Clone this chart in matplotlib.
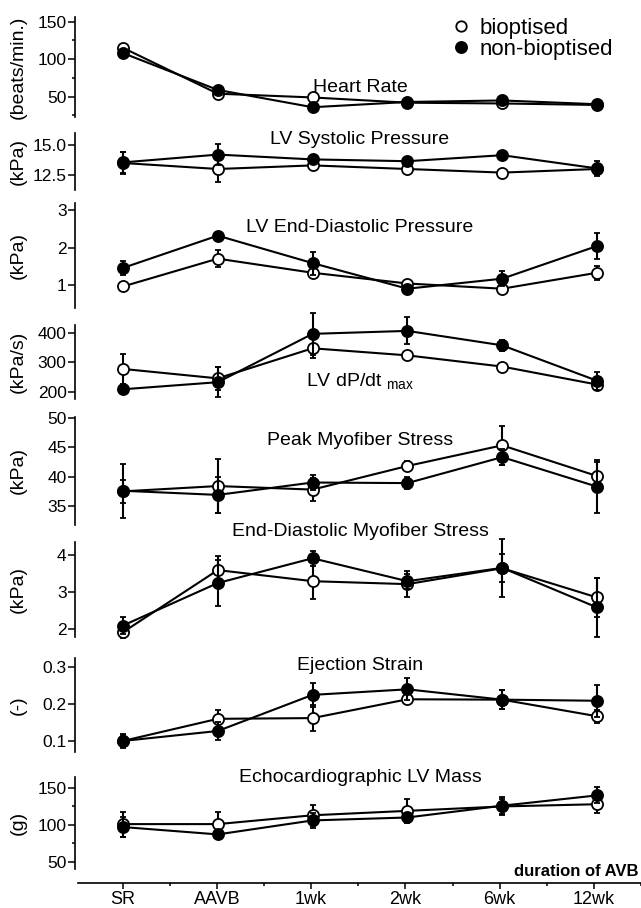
import matplotlib
matplotlib.use("Agg")
import matplotlib.pyplot as plt
import matplotlib.transforms as mtransforms
from matplotlib.lines import Line2D
from matplotlib.ticker import FixedLocator, FormatStrFormatter

plt.rcParams['font.family'] = ['Liberation Sans', 'DejaVu Sans']
plt.rcParams['mathtext.fontset'] = 'custom'
plt.rcParams['mathtext.rm'] = 'Liberation Sans'

stages = ['SR', 'AAVB', '1wk', '2wk', '6wk', '12wk']

# Heart rate (beats/min.)
hr_biop = [115, 54, 49, 42, 41, 39]
hr_biop_err = [2, 2, 2, 2, 2, 2]
hr_non = [108, 59, 36, 43, 45, 40]
hr_non_err = [2, 2, 2, 2, 2, 2]

# LV systolic pressure (kPa)
lvsp_biop = [13.5, 13.0, 13.3, 13.0, 12.7, 13.0]
lvsp_biop_err = [0.9, 1.1, 0.25, 0.2, 0.2, 0.3]
lvsp_non = [13.55, 14.2, 13.8, 13.65, 14.15, 13.05]
lvsp_non_err = [0.9, 0.9, 0.3, 0.3, 0.35, 0.6]

# LV end-diastolic pressure (kPa)
edp_biop = [0.95, 1.70, 1.32, 1.03, 0.89, 1.32]
edp_biop_err = [0.08, 0.23, 0.10, 0.06, 0.06, 0.19]
edp_non = [1.45, 2.32, 1.58, 0.89, 1.16, 2.04]
edp_non_err = [0.18, 0.06, 0.31, 0.06, 0.2, 0.36]

# LV dP/dt max (kPa/s)
dpdt_biop = [277, 245, 347, 323, 285, 224]
dpdt_biop_err = [51, 40, 34, 12, 8, 10]
dpdt_non = [208, 232, 396, 406, 357, 237]
dpdt_non_err = [10, 50, 72, 46, 18, 31]

# Peak myofiber stress (kPa)
pms_biop = [37.5, 38.4, 37.8, 41.8, 45.3, 40.1]
pms_biop_err = [2.0, 4.6, 2.0, 0.8, 3.3, 2.3]
pms_non = [37.6, 36.9, 39.0, 38.9, 43.3, 38.3]
pms_non_err = [4.6, 3.0, 1.2, 1.0, 1.3, 4.5]

# End-diastolic myofiber stress (kPa)
edms_biop = [1.92, 3.60, 3.30, 3.22, 3.65, 2.86]
edms_biop_err = [0.17, 0.37, 0.48, 0.35, 0.38, 0.53]
edms_non = [2.10, 3.25, 3.92, 3.30, 3.66, 2.59]
edms_non_err = [0.23, 0.62, 0.2, 0.2, 0.79, 0.8]

# Ejection strain (-)
es_biop = [0.100, 0.160, 0.162, 0.213, 0.212, 0.167]
es_biop_err = [0.015, 0.025, 0.036, 0.01, 0.026, 0.018]
es_non = [0.100, 0.127, 0.225, 0.240, 0.212, 0.209]
es_non_err = [0.02, 0.025, 0.033, 0.03, 0.026, 0.043]

# Echocardiographic LV mass (g)
mass_biop = [101, 101, 113, 119, 125, 128]
mass_biop_err = [17, 16, 14, 16, 10, 12]
mass_non = [97, 87, 106, 110, 126, 140]
mass_non_err = [14, 4, 10, 4, 12, 11]

panels = [
    ("Heart Rate", "(beats/min.)", hr_biop, hr_biop_err, hr_non, hr_non_err,
     (23, 156), [50, 100, 150], [25, 75, 125], "%d", 87, (17, 117)),
    ("LV Systolic Pressure", "(kPa)", lvsp_biop, lvsp_biop_err, lvsp_non, lvsp_non_err,
     (11.25, 16.0), [12.5, 15.0], [], "%.1f", 140, (133, 190)),
    ("LV End-Diastolic Pressure", "(kPa)", edp_biop, edp_biop_err, edp_non, edp_non_err,
     (0.37, 3.2), [1, 2, 3], [], "%d", 227, (203, 308)),
    (r"LV dP/dt $_{\mathrm{max}}$", "(kPa/s)", dpdt_biop, dpdt_biop_err, dpdt_non, dpdt_non_err,
     (175, 426), [200, 300, 400], [], "%d", 382, (325, 399)),
    ("Peak Myofiber Stress", "(kPa)", pms_biop, pms_biop_err, pms_non, pms_non_err,
     (31.8, 50.1), [35, 40, 45, 50], [], "%d", 441, (417, 525)),
    ("End-Diastolic Myofiber Stress", "(kPa)", edms_biop, edms_biop_err, edms_non, edms_non_err,
     (1.79, 4.36), [2, 3, 4], [], "%d", 532, (542, 637)),
    ("Ejection Strain", "(-)", es_biop, es_biop_err, es_non, es_non_err,
     (0.070, 0.325), [0.1, 0.2, 0.3], [], "%.1f", 665, (658, 752)),
    ("Echocardiographic LV Mass", "(g)", mass_biop, mass_biop_err, mass_non, mass_non_err,
     (40, 165), [50, 100, 150], [75, 125], "%d", 778, (777, 869)),
]

W, H = 641, 908
fig = plt.figure(figsize=(W / 100, H / 100), dpi=100)
x = list(range(len(stages)))

left_px = 75
for title, ylab, yb, eb, yn, en, ylim, major, minor, fmt, ty, (top, bot) in panels:
    ax = fig.add_axes([left_px / W, 1 - bot / H, (W - left_px) / W, (bot - top) / H])
    for yv, ev, face, z in [(yb, eb, 'white', 3), (yn, en, 'k', 4)]:
        cont = ax.errorbar(x, yv, yerr=ev, fmt='o-', color='k', mfc=face, mec='k', ms=8,
                           mew=1.3, lw=1.5, elinewidth=1.5, capsize=2.5, capthick=1.5,
                           zorder=z)
        for art in cont.get_children():
            art.set_clip_on(False)
    ax.set_xlim(-0.506, 5.464)
    ax.set_ylim(*ylim)
    ax.yaxis.set_major_locator(FixedLocator(major))
    ax.yaxis.set_minor_locator(FixedLocator(minor))
    ax.yaxis.set_major_formatter(FormatStrFormatter(fmt))
    for s in ['top', 'right', 'bottom']:
        ax.spines[s].set_visible(False)
    ax.spines['left'].set_linewidth(1.2)
    ax.set_xticks([])
    ax.tick_params(axis='y', which='major', direction='out', length=5, width=1.1,
                   labelsize=12.5, pad=1)
    ax.tick_params(axis='y', which='minor', direction='out', length=2.5, width=1.1)
    ax.patch.set_visible(False)
    trans = mtransforms.blended_transform_factory(ax.transData, fig.transFigure)
    ax.text(2.5, 1 - ty / H, title, transform=trans, ha='center', va='center',
            fontsize=14, clip_on=False)
    fig.text(18 / W, 1 - (top + bot) / 2 / H, ylab, rotation=90, ha='center',
             va='center', fontsize=14)

# shared x axis at the bottom
axx = fig.add_axes([78 / W, 1 - 883 / H, (W - 78) / W, 0.001])
axx.set_xlim(-0.474, 5.464)
axx.set_yticks([])
for s in ['top', 'right', 'left']:
    axx.spines[s].set_visible(False)
axx.spines['bottom'].set_linewidth(1.2)
axx.set_xticks(x)
axx.set_xticklabels(stages)
axx.set_xticks([i + 0.5 for i in x[:-1]] + [5.5], minor=True)
axx.tick_params(axis='x', which='major', direction='out', length=4, width=1.1,
                labelsize=13, pad=2)
axx.tick_params(axis='x', which='minor', direction='out', length=2.5, width=1.1)
axx.patch.set_visible(False)
fig.text(638 / W, 1 - 872 / H, "duration of AVB", ha='right', va='center',
         fontsize=12, fontweight='bold')

handles = [
    Line2D([], [], ls='', marker='o', mfc='white', mec='k', ms=7.5, mew=1.3, label='bioptised'),
    Line2D([], [], ls='', marker='o', mfc='k', mec='k', ms=8, mew=1.3, label='non-bioptised'),
]
fig.legend(handles=handles, loc='upper left', bbox_to_anchor=(452 / W, 1 - 18 / H),
           frameon=False, fontsize=16, handlelength=0.8, handletextpad=0.45,
           labelspacing=0.0, borderpad=0, borderaxespad=0)

fig.savefig("out.png", dpi=100)
